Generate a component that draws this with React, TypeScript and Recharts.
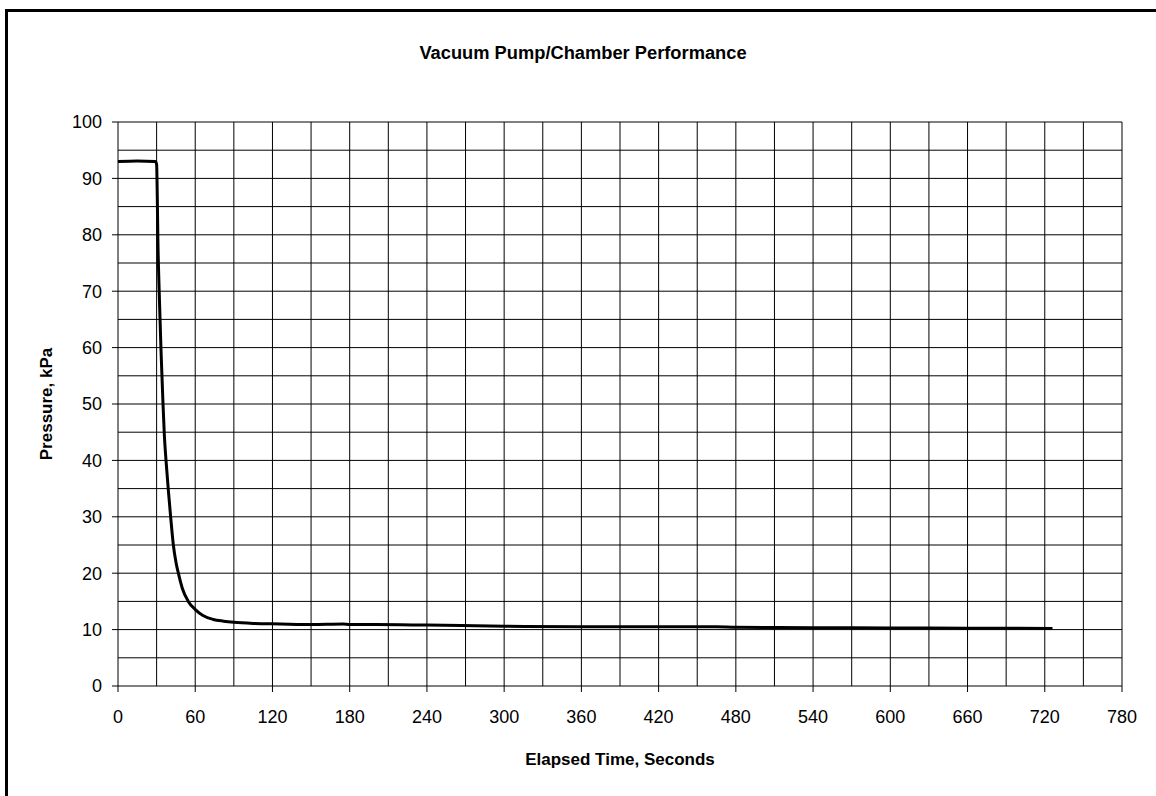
import React from 'react';
import { LineChart, Line, XAxis, YAxis, ReferenceLine } from 'recharts';

// elapsed time (s) and chamber pressure (kPa)
const timeSec = [
  0, 15, 29, 30, 30.5, 31, 32, 33.4, 34.8, 36, 37.3, 39, 40.9, 43, 45,
  46.9, 50, 54.6, 60.3, 66, 74, 82, 90, 105, 126, 150, 175, 180, 200, 240, 300,
  360, 420, 465, 480, 540, 600, 660, 726,
];
const pressureKPa = [
  93, 93.1, 93, 92.5, 87, 79, 70, 59.6, 51, 44.5, 40, 35, 30, 25, 22,
  20, 17.3, 15, 13.5, 12.5, 11.8, 11.5, 11.3, 11.1, 11.0, 10.9, 11.0, 10.9, 10.9, 10.8, 10.6,
  10.5, 10.5, 10.5, 10.4, 10.35, 10.3, 10.25, 10.2,
];

const xTicks = [0, 60, 120, 180, 240, 300, 360, 420, 480, 540, 600, 660, 720, 780];
const yTicks = [0, 10, 20, 30, 40, 50, 60, 70, 80, 90, 100];
const xGrid = Array.from({ length: 26 }, (_, i) => (i + 1) * 30);
const yGrid = Array.from({ length: 20 }, (_, i) => (i + 1) * 5);

const data = timeSec.map((t, i) => ({ t, p: pressureKPa[i] }));

const font = '"Liberation Sans", Arial, sans-serif';

export default function App() {
  return (
    <div
      style={{
        position: 'absolute',
        left: 0,
        top: 0,
        width: 1156,
        height: 796,
        overflow: 'hidden',
        background: '#fff',
        fontFamily: font,
      }}
    >
      {/* outer frame, runs off the right and bottom edges */}
      <div
        style={{
          position: 'absolute',
          left: 5,
          top: 9,
          width: 1170,
          height: 810,
          border: '3px solid #000',
        }}
      />
      <div
        style={{
          position: 'absolute',
          left: 0,
          width: 1166,
          top: 42,
          textAlign: 'center',
          fontWeight: 'bold',
          fontSize: 18.3,
          lineHeight: '22px',
        }}
      >
        Vacuum Pump/Chamber Performance
      </div>
      <div
        style={{
          position: 'absolute',
          left: 420,
          width: 400,
          top: 749,
          textAlign: 'center',
          fontWeight: 'bold',
          fontSize: 17,
          lineHeight: '22px',
        }}
      >
        Elapsed Time, Seconds
      </div>
      <div
        style={{
          position: 'absolute',
          left: 47 - 100,
          top: 404 - 11,
          width: 200,
          textAlign: 'center',
          fontWeight: 'bold',
          fontSize: 17,
          lineHeight: '22px',
          transform: 'rotate(-90deg)',
        }}
      >
        Pressure, kPa
      </div>
      <div style={{ position: 'absolute', left: 0, top: 0 }}>
        <LineChart
          width={1156}
          height={796}
          data={data}
          margin={{ top: 122, right: 34, bottom: 50, left: 58 }}
        >
          <XAxis
            type="number"
            dataKey="t"
            domain={[0, 780]}
            ticks={xTicks}
            interval={0}
            stroke="#000"
            tickSize={6}
            tickMargin={18}
            height={60}
            tick={{ fill: '#000', fontSize: 18, fontFamily: font }}
          />
          <YAxis
            type="number"
            domain={[0, 100]}
            ticks={yTicks}
            interval={0}
            stroke="#000"
            tickSize={6}
            tickMargin={10}
            width={60}
            tick={{ fill: '#000', fontSize: 18, fontFamily: font }}
          />
          {xGrid.map((v) => (
            <ReferenceLine key={`x${v}`} x={v} stroke="#000" strokeWidth={1} />
          ))}
          {yGrid.map((v) => (
            <ReferenceLine key={`y${v}`} y={v} stroke="#000" strokeWidth={1} />
          ))}
          <Line
            type="monotone"
            dataKey="p"
            stroke="#000"
            strokeWidth={3}
            dot={false}
            isAnimationActive={false}
          />
        </LineChart>
      </div>
    </div>
  );
}
